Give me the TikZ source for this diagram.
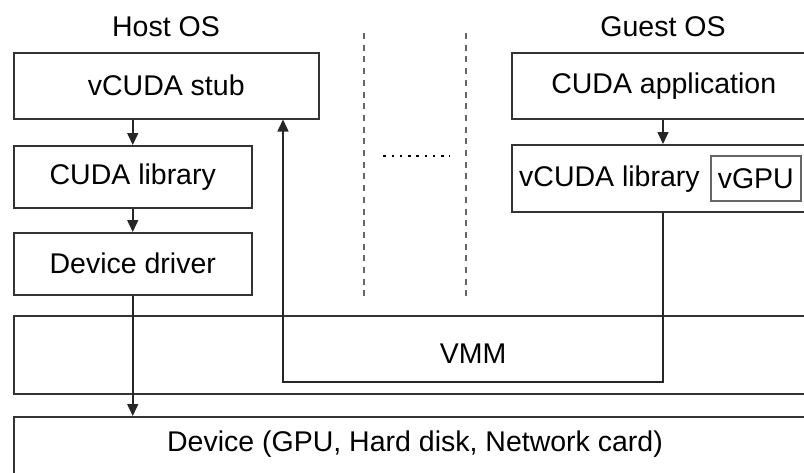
\documentclass[tikz,border=0pt]{standalone}
\usepackage{fontspec}
\setmainfont{Liberation Sans}
\usetikzlibrary{arrows.meta}
\tikzset{
  box/.style={draw=black!80, line width=1.5pt, anchor=north west, inner sep=0pt, font=\fontsize{28.5}{30}\selectfont},
  inbox/.style={draw=black!60, line width=1.6pt, anchor=north west, inner sep=0pt, font=\fontsize{28.5}{30}\selectfont},
  txt/.style={inner sep=0pt, font=\fontsize{28.5}{30}\selectfont},
  conn/.style={draw=black!85, line width=1.5pt, -{Triangle[length=12pt,width=11pt]}},
  sep/.style={draw=black!60, line width=1.5pt, dash pattern=on 6pt off 5.7pt},
  dots/.style={draw=black, line width=2.6pt, dash pattern=on 2.6pt off 5.65pt}
}
\begin{document}
\begin{tikzpicture}[x=1pt, y=-1pt]
\clip (0,0) rectangle (804,472);
\fill[white] (0,0) rectangle (804,472);
% titles
\node[txt] (host) at (166,27) {Host OS};
\node[txt] (guest) at (663,27) {Guest OS};
% host stack
\node[box, minimum width=305pt, minimum height=66pt] (stub) at (13,52) {vCUDA stub};
\node[box, minimum width=238pt, minimum height=62pt] (clib) at (13,145) {CUDA library};
\node[box, minimum width=238pt, minimum height=62pt] (drv) at (13,232) {Device driver};
% guest stack
\node[box, minimum width=304pt, minimum height=66pt] (app) at (511,52) {CUDA application};
\node[box, minimum width=304pt, minimum height=67pt] (vlib) at (511,144) {};
\node[txt, anchor=west] (vlibtxt) at (519,179) {vCUDA library};
\node[inbox, minimum width=90pt, minimum height=45pt] (vgpu) at (710,155) {vGPU};
% VMM and device
\node[box, minimum width=804pt, minimum height=78pt] (vmm) at (13,315) {};
\node[txt] (vmmtxt) at (473,354) {VMM};
\node[box, minimum width=804pt, minimum height=80pt] (dev) at (13,416) {};
\node[txt] (devtxt) at (415,444) {Device (GPU, Hard disk, Network card)};
% separators
\coordinate (s1t) at (364,33); \coordinate (s1b) at (364,298);
\coordinate (s2t) at (466,33); \coordinate (s2b) at (466,298);
\draw[sep] (s1t) -- (s1b);
\draw[sep] (s2t) -- (s2b);
\coordinate (d1) at (383.3,156); \coordinate (d2) at (450,156);
\draw[dots] (d1) -- (d2);
% connectors
\draw[conn] (stub.south -| clib.north) -- (clib.north);
\draw[conn] (clib.south) -- (drv.north);
\draw[conn] (drv.south) -- (drv.south |- dev.north);
\draw[conn] (app.south -| 663,0) -- (vlib.north -| 663,0);
\coordinate (r1) at (663,382);
\coordinate (r2) at (283,382);
\draw[conn] (vlib.south -| r1) -- (r1) -- (r2) -- (r2 |- stub.south);
\end{tikzpicture}
\end{document}
